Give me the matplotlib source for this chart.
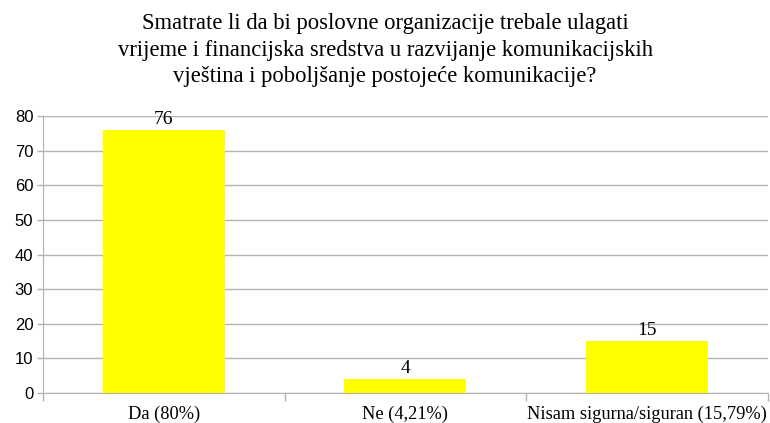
import matplotlib.pyplot as plt

# Data
categories = ['Da (80%)', 'Ne (4,21%)', 'Nisam sigurna/siguran (15,79%)']
counts = [76, 4, 15]
title = ('Smatrate li da bi poslovne organizacije trebale ulagati\n'
         'vrijeme i financijska sredstva u razvijanje komunikacijskih\n'
         'vještina i poboljšanje postojeće komunikacije?')

fig = plt.figure(figsize=(7.7, 4.23), dpi=100)
ax = fig.add_axes([43 / 770, 30 / 423, 724.5 / 770, 277 / 423])

x = range(len(categories))
bars = ax.bar(x, counts, width=0.505, color='#ffff00', zorder=2)
for b, v in zip(bars, counts):
    ax.text(b.get_x() + b.get_width() / 2, v + 0.6, str(v), ha='center', va='bottom',
            family='Liberation Serif', fontsize=14)

ax.set_xlim(-0.5, len(categories) - 0.5)
ax.set_ylim(0, 80)
ax.set_yticks(range(0, 81, 10))
ax.yaxis.grid(True, color='#b3b3b3', linewidth=1, zorder=0)
ax.set_axisbelow(True)

ax.set_xticks(list(x))
ax.set_xticklabels(categories, family='Liberation Serif', fontsize=13.2)
ax.tick_params(axis='x', length=0, pad=9)
ax.set_xticks([i - 0.5 for i in range(len(categories) + 1)], minor=True)
ax.tick_params(axis='x', which='minor', length=6, color='#b3b3b3', width=1)
ax.tick_params(axis='y', length=4, color='#b3b3b3', width=1, labelsize=12, pad=3)
for lab in ax.get_yticklabels():
    lab.set_family('Liberation Sans')

for s in ['top', 'right']:
    ax.spines[s].set_visible(False)
for s in ['left', 'bottom']:
    ax.spines[s].set_color('#b3b3b3')

fig.text(0.5, 1 - 13 / 423, title, ha='center', va='top', family='Liberation Serif',
         fontsize=16.3, linespacing=1.35)

fig.savefig('out.png', dpi=100)
